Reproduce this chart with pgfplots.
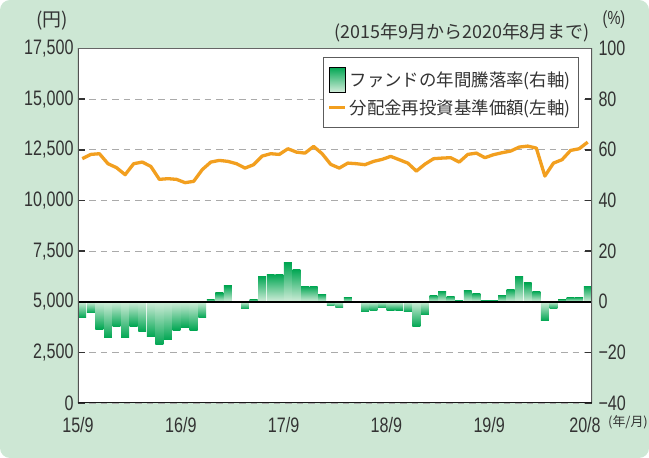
\documentclass[border=0pt]{standalone}
\usepackage{pgfplots}
\pgfplotsset{compat=1.18}
\usepackage{fontspec}
\setmainfont{Liberation Sans}[FakeStretch=0.77]
\newfontfamily\jp{Noto Sans CJK JP}
\definecolor{bg}{HTML}{CDE7D4}
\definecolor{gdark}{HTML}{00A652}
\definecolor{glight}{HTML}{D2EDDA}
\definecolor{lineor}{HTML}{F29F1F}
\definecolor{txt}{HTML}{333333}
\definecolor{gridc}{HTML}{AAAAAA}
\pgfplotsset{
  posbar/.style={ybar, bar width=0.92, bar shift=0pt, draw=none, top color=gdark, bottom color=glight, forget plot},
  negbar/.style={ybar, bar width=0.92, bar shift=0pt, draw=none, top color=glight, bottom color=gdark, forget plot},
}
\newcommand\pb[2]{\addplot[posbar] coordinates {(#1,#2)};}
\newcommand\nb[2]{\addplot[negbar] coordinates {(#1,#2)};}
\begin{document}
\begin{tikzpicture}
\path[use as bounding box] (-78bp,-55bp) rectangle (571bp,403bp);
\fill[bg, rounded corners=10bp] (-78bp,-55bp) rectangle (571bp,403bp);
\fill[white] (0,0) rectangle (514bp,354.5bp);

\begin{axis}[
  at={(0,0)}, anchor=south west,
  scale only axis, width=514bp, height=354.5bp,
  xmin=0, xmax=60, ymin=-40, ymax=100,
  axis line style={draw=none},
  ytick={-40,-20,...,100},
  yticklabels={−40,−20,0,20,40,60,80,100},
  yticklabel pos=right,
  ytick pos=both,
  tick align=inside,
  major tick length=7bp,
  ytick style={draw=txt, line width=1.5bp},
  xtick={0,12,24,36,48,60},
  xticklabels={15/9,16/9,17/9,18/9,19/9,\hspace*{-14bp}20/8},
  xtick style={draw=none},
  ymajorgrids,
  major grid style={gridc, line width=1bp, dash pattern=on 6.5bp off 5bp},
  tick label style={font=\fontsize{21}{21}\selectfont, text=txt},
  yticklabel style={xshift=3bp},
  xticklabel style={yshift=-11bp},
]
\nb{0.5}{-6.3} \nb{1.5}{-4.3} \nb{2.5}{-10.8} \nb{3.5}{-14.3} \nb{4.5}{-9.9} \nb{5.5}{-14.3}
\nb{6.5}{-9.6} \nb{7.5}{-11.8} \nb{8.5}{-13.8} \nb{9.5}{-17.0} \nb{10.5}{-15.1} \nb{11.5}{-11.2}
\nb{12.5}{-10.2} \nb{13.5}{-11.2} \nb{14.5}{-6.3}
\pb{15.5}{1.0} \pb{16.5}{3.5} \pb{17.5}{6.3} \pb{18.5}{0.3} \nb{19.5}{-2.8} \pb{20.5}{1.0}
\pb{21.5}{10.1} \pb{22.5}{10.9} \pb{23.5}{10.9} \pb{24.5}{15.3} \pb{25.5}{12.9} \pb{26.5}{6.2}
\pb{27.5}{6.2} \pb{28.5}{3.0} \nb{29.5}{-1.6} \nb{30.5}{-2.4} \pb{31.5}{1.8} \pb{32.5}{0.3}
\nb{33.5}{-3.9} \nb{34.5}{-3.5} \nb{35.5}{-2.4} \nb{36.5}{-3.3} \nb{37.5}{-3.3} \nb{38.5}{-3.9}
\nb{39.5}{-9.9} \nb{40.5}{-5.1}
\pb{41.5}{2.6} \pb{42.5}{4.2} \pb{43.5}{2.2} \pb{44.5}{0.7} \pb{45.5}{4.6} \pb{46.5}{3.4}
\pb{47.5}{0.7} \pb{48.5}{0.7} \pb{49.5}{2.6} \pb{50.5}{5.0} \pb{51.5}{10.1} \pb{52.5}{7.4}
\pb{53.5}{4.2} \nb{54.5}{-7.5} \nb{55.5}{-2.8} \pb{56.5}{1.0} \pb{57.5}{1.8} \pb{58.5}{1.8}
\pb{59.5}{6.2}
\addplot[black, line width=1.8bp, forget plot] coordinates {(0,0) (60,0)};
\end{axis}

\begin{axis}[
  at={(0,0)}, anchor=south west,
  scale only axis, width=514bp, height=354.5bp,
  xmin=0, xmax=60, ymin=0, ymax=17500,
  scaled y ticks=false,
  axis line style={draw=none},
  xtick=\empty,
  ytick={0,2500,...,17500},
  yticklabels={0,{2,500},{5,000},{7,500},{10,000},{12,500},{15,000},{17,500}},
  ytick style={draw=none},
  yticklabel pos=left,
  tick label style={font=\fontsize{21}{21}\selectfont, text=txt},
  yticklabel style={xshift=-1bp},
  legend style={at={(0.975,0.976)}, anchor=north east, draw=txt!80, line width=1bp,
    fill=white, font=\jp\fontsize{17.5}{20}\selectfont, text=txt,
    inner xsep=5bp, inner ysep=9bp, row sep=4bp, nodes={inner sep=3bp}},
  legend cell align=left,
]
\addlegendimage{legend image code/.code={\shade[top color=gdark,bottom color=glight] (0bp,-12.5bp) rectangle (16bp,12.5bp);}}
\addlegendentry{ファンドの年間騰落率(右軸)}
\addplot[lineor, line width=3.3bp, line join=round,
  legend image code/.code={\draw[lineor, line width=2.5bp] (0bp,0bp) -- (16bp,0bp);}] coordinates {
(0.5,12060) (1.5,12272) (2.5,12306) (3.5,11813) (4.5,11616) (5.5,11271) (6.5,11813) (7.5,11893)
(8.5,11680) (9.5,11040) (10.5,11074) (11.5,11040) (12.5,10877) (13.5,10941) (14.5,11518) (15.5,11893)
(16.5,11976) (17.5,11927) (18.5,11813) (19.5,11597) (20.5,11764) (21.5,12190) (22.5,12306) (23.5,12272)
(24.5,12551) (25.5,12385) (26.5,12336) (27.5,12666) (28.5,12306) (29.5,11779) (30.5,11597) (31.5,11843)
(32.5,11813) (33.5,11764) (34.5,11927) (35.5,12026) (36.5,12174) (37.5,12010) (38.5,11843) (39.5,11449)
(40.5,11790) (41.5,12060) (42.5,12090) (43.5,12110) (44.5,11893) (45.5,12272) (46.5,12336) (47.5,12110)
(48.5,12257) (49.5,12355) (50.5,12436) (51.5,12633) (52.5,12682) (53.5,12583) (54.5,11203) (55.5,11843)
(56.5,12010) (57.5,12468) (58.5,12551) (59.5,12878)
};
\addlegendentry{分配金再投資基準価額(左軸)}
\draw[txt!85, line width=1.6bp] (rel axis cs:0,0) -- (rel axis cs:0,1);
\draw[txt!75, line width=1.2bp] (rel axis cs:0,1) -- (rel axis cs:1,1);
\draw[black!65, line width=2.5bp] (rel axis cs:1,0) -- (rel axis cs:1,1);
\draw[black!90, line width=1.8bp] (rel axis cs:0,0) -- (rel axis cs:1,0);
\end{axis}

\node[anchor=east, font=\jp\fontsize{18}{20}\selectfont, text=txt, inner sep=0] at (512bp,370bp) {(2015年9月から2020年8月まで)};
\node[font=\jp\fontsize{19}{20}\selectfont, text=txt] at (-26bp,382bp) {(円)};
\node[font=\fontsize{19}{20}\selectfont, text=txt] at (536bp,383bp) {(\%)};
\node[font=\jp\fontsize{13}{15}\selectfont, text=txt] at (550bp,-19bp) {(年/月)};
\end{tikzpicture}
\end{document}
